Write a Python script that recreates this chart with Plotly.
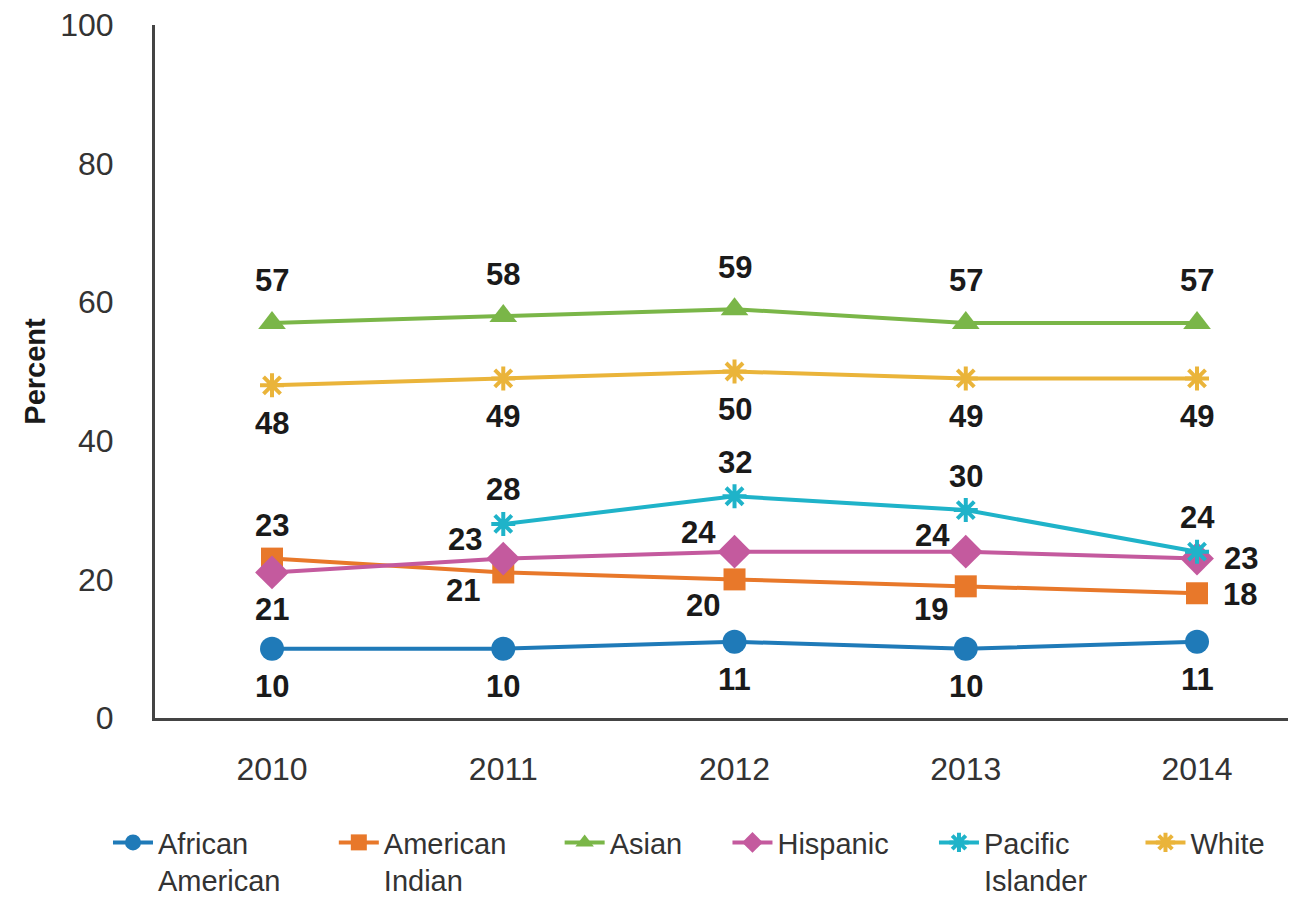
import plotly.graph_objects as go

years = [2010, 2011, 2012, 2013, 2014]
series_names = ["African<br>American", "American<br>Indian", "Asian", "Hispanic", "Pacific<br>Islander", "White"]
african_american = [10, 10, 11, 10, 11]
american_indian = [23, 21, 20, 19, 18]
asian = [57, 58, 59, 57, 57]
hispanic = [21, 23, 24, 24, 23]
pacific_islander = [None, 28, 32, 30, 24]
white = [48, 49, 50, 49, 49]
y_ticks = [0, 20, 40, 60, 80, 100]

values = [african_american, american_indian, asian, hispanic, pacific_islander, white]
colors = ["#1f7ab8", "#e8782a", "#7ab648", "#c45a9e", "#1fb3c9", "#eab43a"]
symbols = ["circle", "square", "triangle-up", "diamond", "asterisk-open", "asterisk-open"]
sizes = [24, 22, 24, 26, 20, 20]
legend_pad = [6, 6, 5, 5, 6, 0]  # trailing spaces for legend spacing


def padded(label, n):
    lines = label.split("<br>")
    i = max(range(len(lines)), key=lambda k: len(lines[k]))
    lines[i] = lines[i] + "\u00a0" * n
    return "<br>".join(lines)


# label offsets in pixels (xshift, yshift) per series per point
label_offsets = [
    [(0, -38)] * 5,
    [(0, 33), (-40, -18), (-32, -26), (-35, -23), (43, -1)],
    [(0, 42)] * 5,
    [(0, -37), (-38, 19), (-36, 19), (-33, 16), (44, 0)],
    [(0, 34)] * 5,
    [(0, -38)] * 5,
]

fig = go.Figure()
for name, vals, col, sym, sz, pad in zip(series_names, values, colors, symbols, sizes, legend_pad):
    is_ast = sym.startswith("asterisk")
    fig.add_trace(go.Scatter(
        x=years, y=vals, name=padded(name, pad), mode="lines+markers",
        line=dict(color=col, width=4),
        marker=dict(symbol=sym, size=sz, color=col,
                    line=dict(color=col, width=4 if is_ast else 0)),
    ))

annotations = []
for vals, offs in zip(values, label_offsets):
    for x, v, (dx, dy) in zip(years, vals, offs):
        if v is None:
            continue
        annotations.append(dict(
            x=x, y=v, text=str(v), showarrow=False, xshift=dx, yshift=dy,
            font=dict(family="Liberation Sans, Arial", size=31, color="#1a1a1a", weight="bold"),
        ))

fig.update_layout(
    width=1288, height=910,
    margin=dict(l=147, r=0, t=17, b=200),
    paper_bgcolor="white", plot_bgcolor="white",
    font=dict(family="Liberation Sans, Arial", color="#333333"),
    annotations=annotations,
    showlegend=True,
    legend=dict(orientation="h", xref="paper", yref="paper",
                x=-0.0412, y=-0.1429, xanchor="left", yanchor="top", valign="top",
                font=dict(size=29, color="#333333"), tracegroupgap=0,
                itemwidth=40),
)
fig.update_xaxes(
    range=[2009.494, 2014.428], tickmode="array", tickvals=years,
    ticktext=[str(y) for y in years], showgrid=False, zeroline=False,
    showline=True, linecolor="#444444", linewidth=3, ticks="",
    ticklabelstandoff=21, tickfont=dict(size=32, color="#333333"),
    automargin=False,
)
fig.update_yaxes(
    range=[0, 100], tickmode="array", tickvals=y_ticks, showgrid=False,
    zeroline=False, showline=True, linecolor="#444444", linewidth=3, ticks="",
    ticklabelstandoff=32, tickfont=dict(size=32, color="#333333"),
    ticklabeloverflow="allow",
    title=dict(text="<b>Percent</b>", font=dict(size=29, color="#1a1a1a"), standoff=7),
    automargin=False,
)

fig.write_html("out.html")
